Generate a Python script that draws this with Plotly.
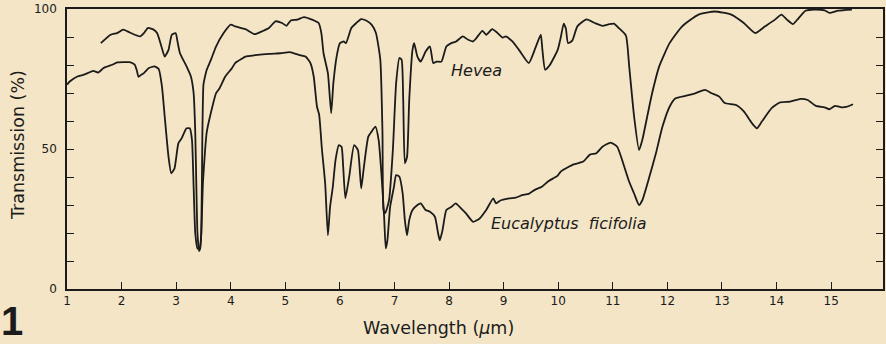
import plotly.graph_objects as go

# Infrared transmission spectra of two leaf waxes / latex films
hevea_wl = [1.62, 1.80, 1.92, 2.03, 2.15, 2.34, 2.41, 2.48, 2.57, 2.65, 2.73, 2.79, 2.86, 2.92, 2.99,
            3.03, 3.07, 3.19, 3.27, 3.32, 3.35, 3.37, 3.39, 3.42, 3.44, 3.46, 3.48, 3.50, 3.53, 3.56,
            3.64, 3.73, 3.87, 4.00, 4.08, 4.27, 4.44, 4.57, 4.70, 4.82, 4.94, 5.02, 5.10, 5.22, 5.34,
            5.49, 5.61, 5.66, 5.70, 5.78, 5.84, 5.88, 5.94, 6.00, 6.07, 6.11, 6.21, 6.30, 6.39, 6.48,
            6.58, 6.66, 6.74, 6.78, 6.80, 6.83, 6.90, 6.97, 7.03, 7.09, 7.13, 7.16, 7.19, 7.23, 7.27,
            7.33, 7.36, 7.42, 7.48, 7.57, 7.65, 7.71, 7.77, 7.86, 7.95, 8.04, 8.13, 8.25, 8.35, 8.44,
            8.50, 8.61, 8.68, 8.79, 8.89, 8.98, 9.04, 9.16, 9.28, 9.46, 9.58, 9.68, 9.71, 9.76, 9.84,
            9.99, 10.05, 10.10, 10.14, 10.18, 10.26, 10.35, 10.52, 10.67, 10.81, 10.92, 11.02, 11.11,
            11.24, 11.30, 11.39, 11.48, 11.54, 11.63, 11.72, 11.85, 12.04, 12.27, 12.57, 12.87, 13.17,
            13.40, 13.61, 13.79, 13.97, 14.09, 14.19, 14.30, 14.38, 14.53, 14.69, 14.88, 14.97, 15.13,
            15.38]
hevea_t = [87.8, 90.8, 91.4, 92.6, 91.6, 90.2, 91.4, 93.2, 92.8, 91.4, 86.6, 83.0, 85.4, 90.8, 91.4,
           87.8, 84.2, 79.5, 75.9, 69.9, 55.7, 36.5, 20.0, 13.5, 14.5, 20.0, 55.0, 73.0, 76.0, 78.3,
           82.0, 86.6, 91.4, 94.4, 93.8, 92.8, 91.0, 92.0, 93.2, 95.6, 95.0, 94.0, 95.9, 96.2, 97.1,
           96.2, 95.0, 91.4, 84.2, 77.1, 62.8, 73.5, 83.0, 87.8, 88.4, 87.8, 93.2, 95.0, 96.4, 95.9,
           94.4, 91.4, 81.9, 55.7, 28.2, 27.1, 31.7, 49.6, 73.5, 82.5, 81.9, 67.5, 44.9, 47.2, 67.5,
           85.4, 87.8, 83.0, 81.2, 84.8, 86.6, 80.7, 81.2, 81.2, 86.6, 87.8, 88.4, 90.2, 89.0, 88.4,
           89.6, 92.2, 90.8, 92.8, 91.4, 89.8, 90.2, 88.4, 85.4, 80.7, 86.0, 90.8, 85.4, 78.3, 79.8,
           85.4, 90.2, 94.8, 93.0, 87.8, 88.8, 93.8, 96.3, 95.0, 94.0, 94.5, 94.8, 93.2,
           90.5, 79.5, 61.6, 49.6, 53.2, 61.6, 69.9, 79.5, 87.8, 93.8, 98.0, 99.1, 98.0,
           95.0, 91.4, 93.8, 96.2, 98.0, 96.2, 94.6, 96.2, 99.4, 99.8, 99.5, 98.6, 99.4,
           99.8]

eucalyptus_wl = [1.00, 1.05, 1.19, 1.30, 1.38, 1.48, 1.57, 1.67, 1.83, 1.92, 2.05, 2.15, 2.24, 2.28,
                 2.31, 2.36, 2.41, 2.50, 2.60, 2.68, 2.74, 2.79, 2.86, 2.91, 2.97, 3.04, 3.10, 3.19,
                 3.25, 3.29, 3.32, 3.35, 3.39, 3.43, 3.46, 3.49, 3.53, 3.56, 3.62, 3.73, 3.79, 3.90,
                 4.02, 4.08, 4.20, 4.27, 4.45, 4.70, 4.91, 5.08, 5.25, 5.37, 5.46, 5.52, 5.58, 5.62,
                 5.67, 5.73, 5.78, 5.82, 5.87, 5.92, 5.98, 6.03, 6.06, 6.10, 6.17, 6.26, 6.33, 6.39,
                 6.44, 6.52, 6.58, 6.65, 6.71, 6.76, 6.81, 6.84, 6.87, 6.92, 6.99, 7.03, 7.09, 7.15,
                 7.19, 7.23, 7.27, 7.33, 7.42, 7.48, 7.57, 7.65, 7.74, 7.80, 7.83, 7.88, 7.95, 8.04,
                 8.12, 8.22, 8.31, 8.44, 8.56, 8.68, 8.81, 8.86, 8.95, 9.10, 9.22, 9.34, 9.46, 9.58,
                 9.70, 9.82, 9.99, 10.05, 10.28, 10.46, 10.58, 10.70, 10.81, 10.96, 11.08, 11.17, 11.30,
                 11.39, 11.48, 11.54, 11.67, 11.79, 11.91, 12.04, 12.15, 12.33, 12.51, 12.69, 12.81,
                 12.95, 13.05, 13.26, 13.40, 13.55, 13.64, 13.73, 13.91, 14.06, 14.25, 14.44, 14.57,
                 14.72, 14.88, 14.97, 15.07, 15.19, 15.29, 15.40]
eucalyptus_t = [73.0, 74.1, 75.9, 76.5, 77.1, 77.9, 77.3, 78.9, 80.1, 80.9, 81.0, 81.0, 80.1, 78.0,
                75.8, 76.5, 77.1, 78.9, 79.5, 78.6, 72.3, 61.6, 47.2, 41.3, 43.1, 52.0, 53.8, 57.4,
                57.4, 53.2, 36.5, 19.9, 14.5, 14.2, 19.9, 37.8, 49.6, 56.0, 61.6, 69.9, 71.5, 75.9,
                78.8, 80.7, 82.2, 83.0, 83.5, 84.0, 84.2, 84.6, 83.6, 83.0, 80.7, 75.9, 65.1, 62.2,
                50.0, 37.7, 19.2, 29.3, 36.5, 46.1, 51.4, 50.8, 43.7, 32.4, 40.1, 51.4, 49.6, 35.9,
                43.7, 54.4, 56.2, 58.0, 53.2, 41.3, 25.8, 14.5, 17.4, 29.3, 36.5, 40.7, 40.1, 34.1,
                24.6, 19.2, 24.6, 28.2, 30.0, 30.6, 28.2, 27.6, 25.8, 19.8, 17.4, 21.0, 28.2, 29.3,
                30.6, 28.8, 27.0, 24.0, 25.2, 28.2, 32.4, 30.6, 31.7, 32.4, 32.6, 33.5, 34.0, 35.5,
                36.5, 38.5, 40.5, 42.0, 44.5, 45.5, 48.0, 48.5, 50.8, 52.3, 50.8, 46.1, 38.3,
                34.1, 30.0, 31.7, 40.1, 48.5, 58.0, 65.1, 68.1, 69.0, 69.9, 71.1, 69.9,
                68.7, 66.4, 65.7, 63.4, 59.2, 57.4, 59.8, 64.6, 66.6, 66.9, 67.9, 67.5,
                65.4, 64.9, 64.2, 65.4, 64.9, 65.1, 66.0]

x_ticks = list(range(1, 16))
y_ticks = list(range(0, 101, 10))
y_tick_text = ["0" if v == 0 else "50" if v == 50 else "100" if v == 100 else "" for v in y_ticks]

ink = "#1b1b1b"
paper = "#f3e5c6"
font = "DejaVu Sans"

fig = go.Figure()
for wl, t in ((hevea_wl, hevea_t), (eucalyptus_wl, eucalyptus_t)):
    fig.add_trace(go.Scatter(x=wl, y=t, mode="lines",
                             line=dict(color=ink, width=1.8, shape="spline", smoothing=0.5),
                             hoverinfo="skip", showlegend=False))

fig.update_layout(
    width=886, height=344,
    margin=dict(l=66.5, r=1, t=9, b=55.3),
    paper_bgcolor=paper, plot_bgcolor=paper,
    font=dict(family=font, color=ink),
    xaxis=dict(range=[1, 15.95], tickvals=x_ticks, ticktext=[str(v) for v in x_ticks],
               ticks="inside", ticklen=7, tickwidth=1.3, tickcolor=ink,
               showline=True, linecolor=ink, linewidth=1.5, mirror=True,
               showgrid=False, zeroline=False, tickfont=dict(size=12, family=font)),
    yaxis=dict(range=[0, 100], tickvals=y_ticks, ticktext=y_tick_text,
               ticks="inside", ticklen=7, tickwidth=1.3, tickcolor=ink,
               showline=True, linecolor=ink, linewidth=1.5, mirror="ticks",
               ticklabelstandoff=6,
               showgrid=False, zeroline=False, tickfont=dict(size=12, family=font)),
    annotations=[
        dict(text="<i>Hevea</i>", x=8.5, y=77.9, xref="x", yref="y", showarrow=False,
             font=dict(size=16, family=font, color=ink)),
        dict(text="<i>Eucalyptus  ficifolia</i>", x=10.2, y=23.3, xref="x", yref="y",
             showarrow=False, font=dict(size=16, family=font, color=ink)),
        dict(text="Transmission (%)", x=-0.0601, y=0.514, xref="paper", yref="paper",
             xanchor="center", yanchor="middle",
             textangle=-90, showarrow=False, font=dict(size=17.5, family=font, color=ink)),
        dict(text="Wavelength (<i>μ</i>m)", x=0.455, y=-0.1407, xref="paper", yref="paper",
             xanchor="center", yanchor="middle",
             showarrow=False, font=dict(size=17.5, family=font, color=ink)),
        dict(text="<b>1</b>", x=-0.0815, y=-0.196, xref="paper", yref="paper",
             xanchor="left", yanchor="bottom", borderpad=0,
             showarrow=False, font=dict(size=40, family="Liberation Sans", color=ink)),
    ],
)

fig.write_html("out.html")
